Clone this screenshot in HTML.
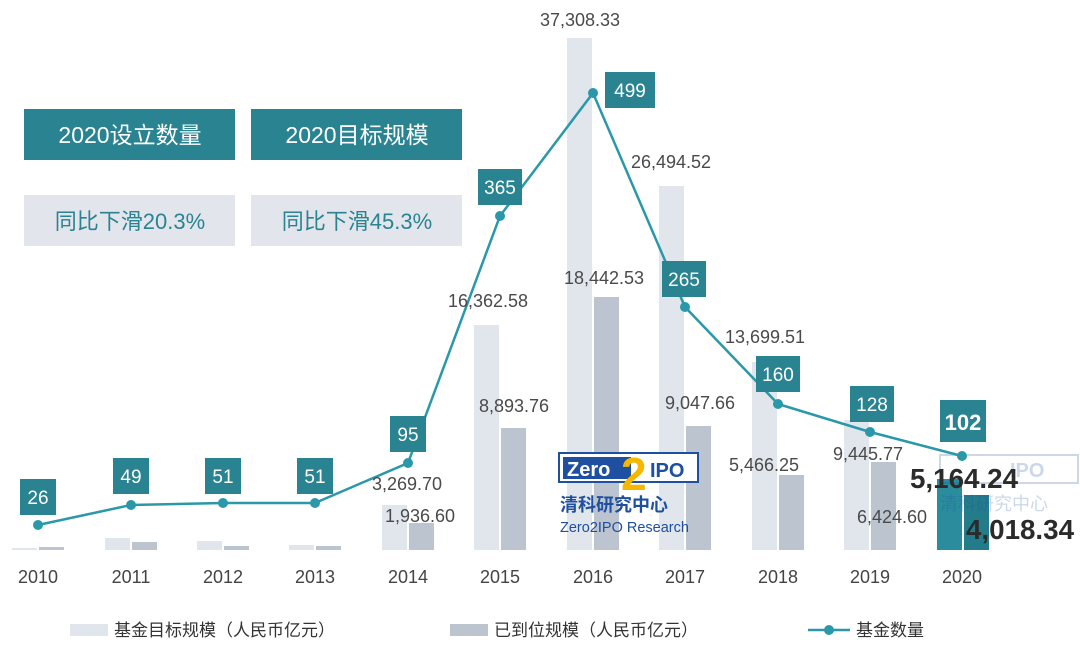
<!DOCTYPE html>
<html><head><meta charset="utf-8"><style>
body{margin:0;background:#fff;}
svg text{font-family:"Liberation Sans","Noto Sans CJK SC",sans-serif;}
</style></head><body>
<svg width="1080" height="651" viewBox="0 0 1080 651" xmlns="http://www.w3.org/2000/svg">
<rect width="1080" height="651" fill="#fff"/>
<g>
<rect x="12" y="548" width="25" height="2" fill="#e1e5ec"/><rect x="39" y="547" width="25" height="3" fill="#bcc4d0"/>
<rect x="105" y="538" width="25" height="12" fill="#e1e5ec"/><rect x="132" y="542" width="25" height="8" fill="#bcc4d0"/>
<rect x="197" y="541" width="25" height="9" fill="#e1e5ec"/><rect x="224" y="546" width="25" height="4" fill="#bcc4d0"/>
<rect x="289" y="545" width="25" height="5" fill="#e1e5ec"/><rect x="316" y="546" width="25" height="4" fill="#bcc4d0"/>
<rect x="382" y="505" width="25" height="45" fill="#e1e5ec"/><rect x="409" y="523" width="25" height="27" fill="#bcc4d0"/>
<rect x="474" y="325" width="25" height="225" fill="#e1e5ec"/><rect x="501" y="428" width="25" height="122" fill="#bcc4d0"/>
<rect x="567" y="38" width="25" height="512" fill="#e1e5ec"/><rect x="594" y="297" width="25" height="253" fill="#bcc4d0"/>
<rect x="659" y="186" width="25" height="364" fill="#e1e5ec"/><rect x="686" y="426" width="25" height="124" fill="#bcc4d0"/>
<rect x="752" y="362" width="25" height="188" fill="#e1e5ec"/><rect x="779" y="475" width="25" height="75" fill="#bcc4d0"/>
<rect x="844" y="420" width="25" height="130" fill="#e1e5ec"/><rect x="871" y="462" width="25" height="88" fill="#bcc4d0"/>
<rect x="937" y="479" width="25" height="71" fill="#2a8c9c"/><rect x="964" y="495" width="25" height="55" fill="#227c8a"/>
</g>
<g>
<rect x="559" y="453" width="139" height="29" fill="#fff" stroke="#1e4fa0" stroke-width="2"/>
<rect x="563" y="457" width="68" height="22" fill="#1e4fa0"/>
<text x="567" y="476" font-size="20" font-weight="bold" fill="#fff" font-family="Liberation Mono">Zero</text>
<text x="621" y="490" font-size="46" font-weight="bold" fill="#f5b800">2</text>
<text x="650" y="477" font-size="20" font-weight="bold" fill="#1e4fa0" font-family="Liberation Mono">IPO</text>
<text x="560" y="511" font-size="18" font-weight="bold" fill="#1e4fa0">清科研究中心</text>
<text x="560" y="532" font-size="14.5" fill="#1e4fa0">Zero2IPO Research</text>
<g opacity="0.22">
<rect x="940" y="455" width="138" height="28" fill="none" stroke="#1e4fa0" stroke-width="2"/>
<text x="1010" y="477" font-size="20" font-weight="bold" fill="#1e4fa0" font-family="Liberation Mono">IPO</text>
<text x="940" y="510" font-size="18" fill="#1e4fa0">清科研究中心</text>
</g>
</g>
<polyline fill="none" stroke="#2a98a8" stroke-width="2.5" points="38,525 131,505 223,503 315,503 408,463 500,216 593,93 685,307 778,404 870,432 962,456"/>
<g fill="#2a98a8">
<circle cx="38" cy="525" r="5"/><circle cx="131" cy="505" r="5"/><circle cx="223" cy="503" r="5"/><circle cx="315" cy="503" r="5"/><circle cx="408" cy="463" r="5"/><circle cx="500" cy="216" r="5"/><circle cx="593" cy="93" r="5"/><circle cx="685" cy="307" r="5"/><circle cx="778" cy="404" r="5"/><circle cx="870" cy="432" r="5"/><circle cx="962" cy="456" r="5"/>
</g>
<g fill="#2a8391">
<rect x="20" y="479" width="36" height="36"/><rect x="113" y="458" width="36" height="36"/><rect x="205" y="458" width="36" height="36"/><rect x="297" y="458" width="36" height="36"/><rect x="390" y="416" width="36" height="36"/><rect x="478" y="169" width="44" height="36"/><rect x="605" y="72" width="50" height="36"/><rect x="662" y="261" width="44" height="36"/><rect x="756" y="356" width="44" height="36"/><rect x="850" y="386" width="44" height="36"/><rect x="940" y="400" width="46" height="42"/>
</g>
<g fill="#fff" font-size="19" text-anchor="middle">
<text x="38" y="504">26</text><text x="131" y="483">49</text><text x="223" y="483">51</text><text x="315" y="483">51</text><text x="408" y="441">95</text><text x="500" y="194">365</text><text x="630" y="97">499</text><text x="684" y="286">265</text><text x="778" y="381">160</text><text x="872" y="411">128</text><text x="963" y="430" font-size="22" font-weight="bold">102</text>
</g>
<g fill="#4a4a4a" font-size="18" text-anchor="middle">
<text x="580" y="26">37,308.33</text>
<text x="604" y="284">18,442.53</text>
<text x="671" y="168">26,494.52</text>
<text x="700" y="409">9,047.66</text>
<text x="488" y="307">16,362.58</text>
<text x="514" y="412">8,893.76</text>
<text x="407" y="490">3,269.70</text>
<text x="420" y="522">1,936.60</text>
<text x="765" y="343">13,699.51</text>
<text x="764" y="471">5,466.25</text>
<text x="868" y="460">9,445.77</text>
<text x="892" y="523">6,424.60</text>
</g>
<g fill="#2b2b2b" font-size="28" font-weight="bold">
<text x="910" y="488" textLength="108" lengthAdjust="spacingAndGlyphs">5,164.24</text>
<text x="966" y="539" textLength="108" lengthAdjust="spacingAndGlyphs">4,018.34</text>
</g>
<g fill="#444" font-size="18" text-anchor="middle">
<text x="38" y="583">2010</text><text x="131" y="583">2011</text><text x="223" y="583">2012</text><text x="315" y="583">2013</text><text x="408" y="583">2014</text><text x="500" y="583">2015</text><text x="593" y="583">2016</text><text x="685" y="583">2017</text><text x="778" y="583">2018</text><text x="870" y="583">2019</text><text x="962" y="583">2020</text>
</g>
<rect x="24" y="109" width="211" height="51" fill="#2a8391"/>
<rect x="251" y="109" width="211" height="51" fill="#2a8391"/>
<text x="130" y="143" fill="#fff" font-size="23" text-anchor="middle">2020设立数量</text>
<text x="357" y="143" fill="#fff" font-size="23" text-anchor="middle">2020目标规模</text>
<rect x="24" y="195" width="211" height="51" fill="#e2e6ec"/>
<rect x="251" y="195" width="211" height="51" fill="#e2e6ec"/>
<text x="130" y="229" fill="#2a8391" font-size="22" text-anchor="middle">同比下滑20.3%</text>
<text x="357" y="229" fill="#2a8391" font-size="22" text-anchor="middle">同比下滑45.3%</text>
<rect x="70" y="624" width="38" height="12" fill="#e1e5ec"/>
<text x="114" y="636" fill="#333" font-size="17">基金目标规模（人民币亿元）</text>
<rect x="450" y="624" width="38" height="12" fill="#bcc4d0"/>
<text x="494" y="636" fill="#333" font-size="17">已到位规模（人民币亿元）</text>
<line x1="808" y1="630" x2="850" y2="630" stroke="#2a98a8" stroke-width="2.5"/>
<circle cx="829" cy="630" r="5" fill="#2a98a8"/>
<text x="856" y="636" fill="#333" font-size="17">基金数量</text>
</svg>
</body></html>
